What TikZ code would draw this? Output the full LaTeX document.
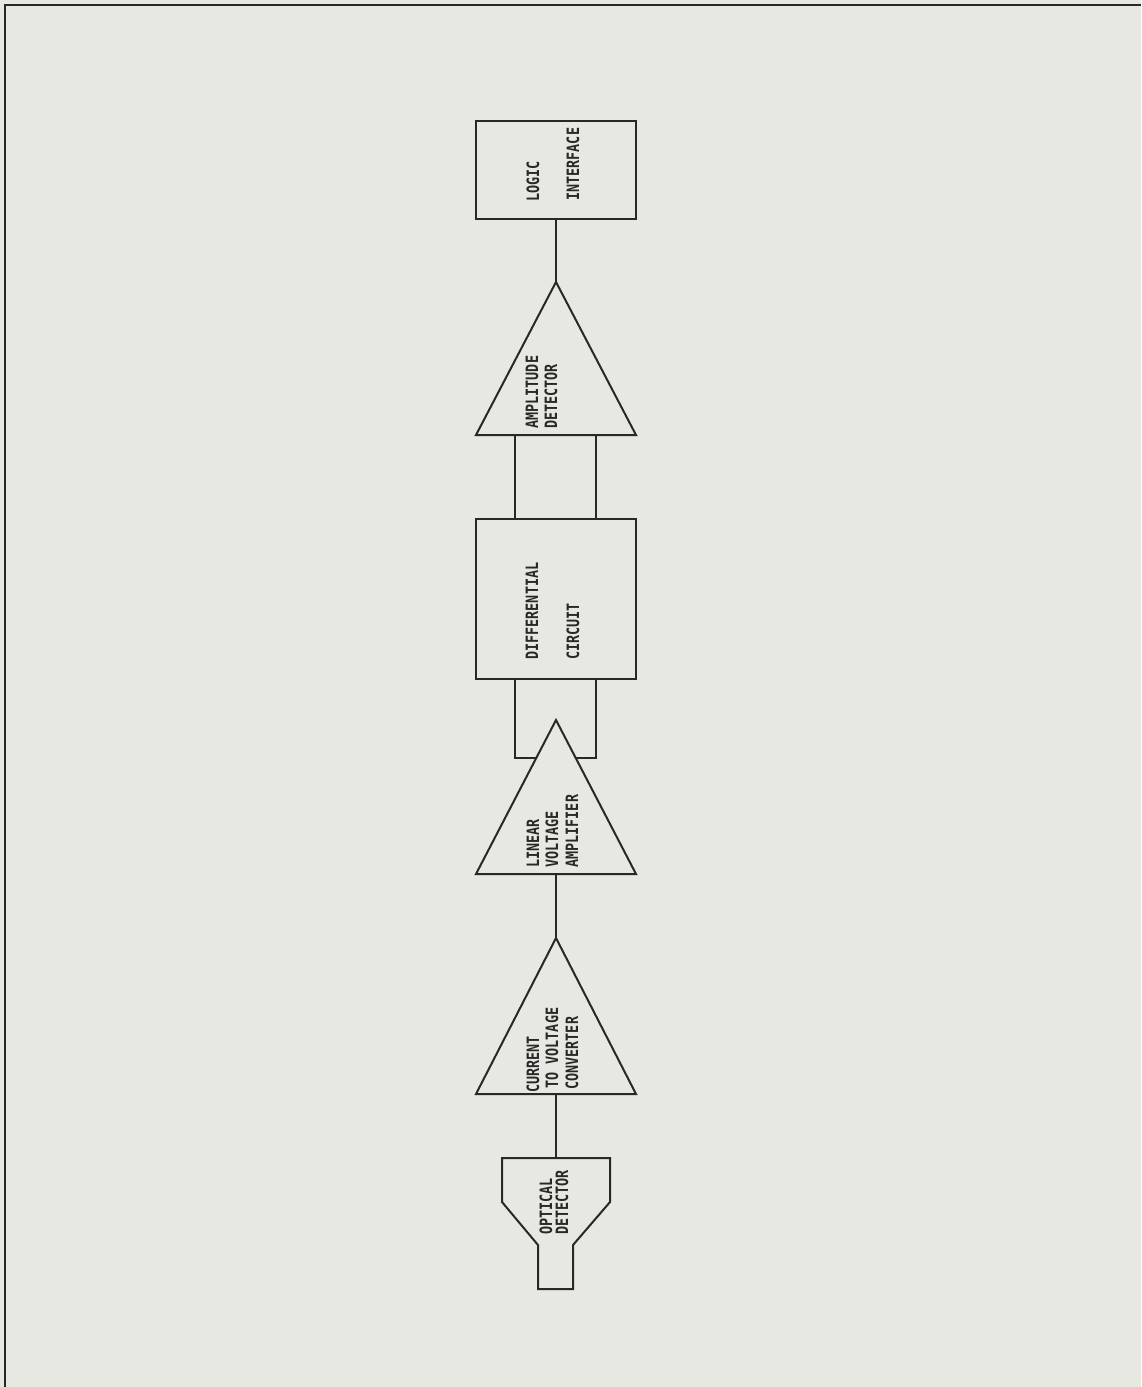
\documentclass[tikz,border=0pt]{standalone}
\usepackage{fontspec}
\usetikzlibrary{calc}
\newfontfamily\plotfont[FakeStretch=0.79]{DejaVu Sans Mono}
\definecolor{paper}{RGB}{232,232,226}
\definecolor{ink}{RGB}{40,40,40}

\begin{document}
\begin{tikzpicture}[x=0.5pt,y=-0.5pt,
    wire/.style={ink,line width=1pt},
    blockbox/.style={draw=ink,line width=1pt,inner sep=0pt,minimum width=80pt},
    lbl/.style={rotate=90,anchor=west,inner sep=0pt,text=ink,
        font=\plotfont\bfseries\fontsize{8.5}{10}\selectfont}]
    % Sheet
    \fill[paper] (0,0) rectangle (1141,1387);
    \useasboundingbox (0,0) rectangle (1141,1387);
    \draw[ink,line width=1.3pt] (5,1387)--(5,5)--(1141,5);

    % Logic interface
    \node[blockbox,minimum height=49pt] (logic) at (556,170) {};
    \node[lbl] at (533,202) {LOGIC};
    \node[lbl] at (573,201) {INTERFACE};

    % Differential circuit
    \node[blockbox,minimum height=80pt] (diff) at (556,599) {};
    \node[lbl] at (532,660) {DIFFERENTIAL};
    \node[lbl] at (573,660) {CIRCUIT};

    % Triangles (amplitude detector, linear amplifier, converter)
    \foreach \n/\ya/\yb in {amp/282/435,lin/720/874,cur/938/1094} {
        \coordinate (\n A) at (556,\ya);
        \coordinate (\n B) at (556,\yb);
        \coordinate (\n W) at (476,\yb);
        \coordinate (\n E) at (636,\yb);
        \draw[wire,line join=miter] (\n W)--(\n A)--(\n E)--cycle;
    }
    \node[lbl] at (532,429) {AMPLITUDE};
    \node[lbl] at (551,429) {DETECTOR};
    \node[lbl] at (533,868) {LINEAR};
    \node[lbl] at (552,868) {VOLTAGE};
    \node[lbl] at (572,868) {AMPLIFIER};
    \node[lbl] at (533,1093) {CURRENT};
    \node[lbl] at (552,1089) {TO VOLTAGE};
    \node[lbl] at (572,1090) {CONVERTER};

    % Optical detector
    \coordinate (optT) at (556,1158);
    \draw[wire] (502,1158)--(610,1158)--(610,1202)--(573,1245)--(573,1289)
        --(538,1289)--(538,1245)--(502,1202)--cycle;
    \node[lbl] at (546,1235) {OPTICAL};
    \node[lbl] at (562,1235) {DETECTOR};

    % Connections
    \draw[wire] (logic.south)--(ampA);
    \coordinate (ampL) at (515,435);
    \coordinate (ampR) at (596,435);
    \draw[wire] (ampL)--(ampL |- diff.north);
    \draw[wire] (ampR)--(ampR |- diff.north);
    \coordinate (linJW) at ($(linA)!0.247!(linW)$);
    \coordinate (linJE) at ($(linA)!0.247!(linE)$);
    \draw[wire] (ampL |- diff.south) |- (linJW);
    \draw[wire] (ampR |- diff.south) |- (linJE);
    \draw[wire] (linB)--(curA);
    \draw[wire] (curB)--(optT);
\end{tikzpicture}
\end{document}
